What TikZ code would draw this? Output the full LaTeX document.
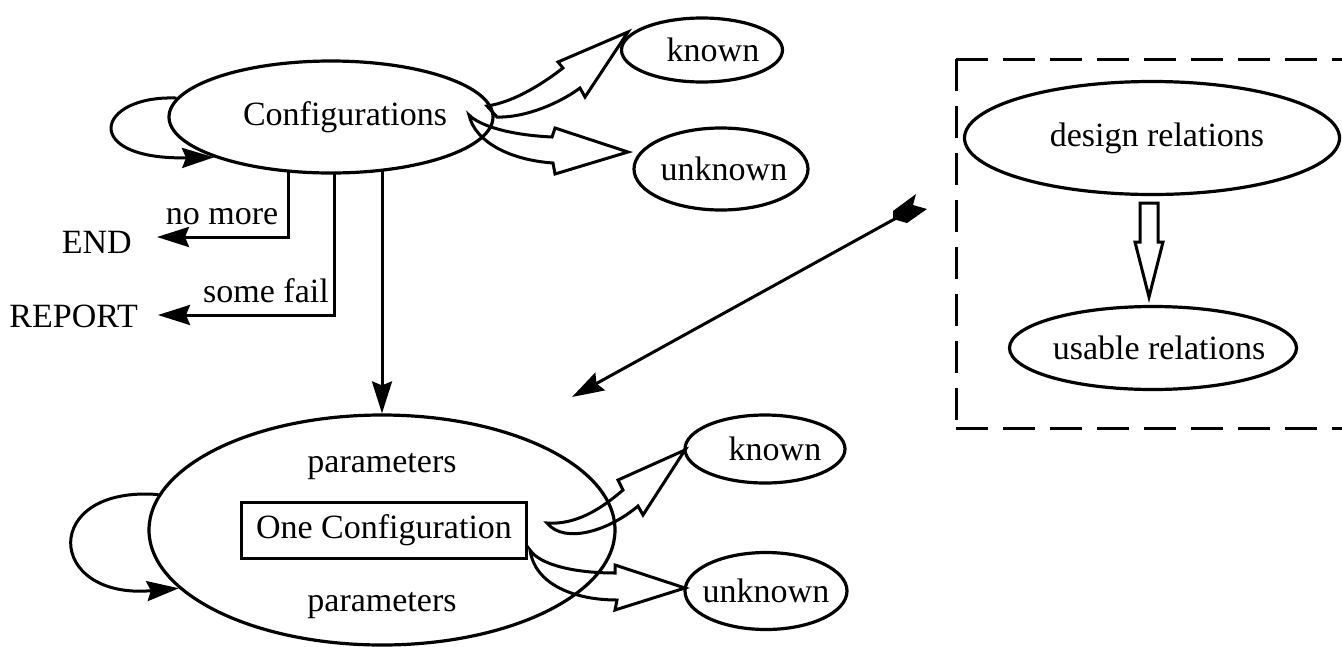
\documentclass[tikz,border=0pt]{standalone}
\usepackage{fontspec}
\setmainfont{Liberation Serif}
\usetikzlibrary{shapes.geometric,arrows.meta}
% centre a label at the node centre, nudged right by half of #1
\newcommand{\fitin}[2][0pt]{\makebox[0pt]{\hspace*{#1}#2}}
\begin{document}
\begin{tikzpicture}[x=1pt,y=-1pt,
  every node/.style={font=\fontsize{34}{40}\selectfont, inner sep=0pt},
  ell/.style={ellipse, draw, line width=3.2pt},
  conn/.style={line width=3pt},
  tip/.style={-{Stealth[length=32pt,width=20pt,inset=4pt]}},
  blockarr/.style={draw, line width=3pt, line join=miter},
  dbox/.style={line width=3pt, dash pattern=on 32pt off 15pt},
]
\useasboundingbox (0,0) rectangle (1342,646);

% --- states -------------------------------------------------------
\node[ell, minimum width=324pt, minimum height=112pt] (conf) at (331,117) {\fitin[28pt]{Configurations}};
\node[ell, minimum width=161pt, minimum height=64pt]  (kn1)  at (702,50)  {\fitin[22pt]{known}};
\node[ell, minimum width=174pt, minimum height=82pt]  (unk1) at (721,169) {\fitin[6pt]{unknown}};

\node[ell, minimum width=466pt, minimum height=230pt] (one) at (382,530) {};
\node (parA) at (382,467) {parameters};
\node (parB) at (382,606) {parameters};
\node[draw, line width=3pt, minimum width=285pt, minimum height=56pt] (cfg) at (384,530) {One Configuration};
\node[ell, minimum width=160pt, minimum height=68pt] (kn2)  at (765,449) {\fitin[20pt]{known}};
\node[ell, minimum width=162pt, minimum height=77pt] (unk2) at (766,591) {\fitin{unknown}};

\node[ell, minimum width=375pt, minimum height=113pt] (dr) at (1152,138) {\fitin[10pt]{design relations}};
\node[ell, minimum width=287pt, minimum height=83pt]  (ur) at (1153,348) {\fitin[12pt]{usable relations}};

\node[anchor=east] (END) at (132,242) {END};
\node[anchor=east] (REP) at (138,316) {REPORT};
\node (nomore)   at (222,217) {no more};
\node (somefail) at (266,291) {some fail};

\coordinate (nmX) at (288,0);
\coordinate (sfX) at (334,0);
\coordinate (dgA) at (572,397);
\coordinate (dgB) at (900,216);

% --- thin connectors ----------------------------------------------
\draw[conn, tip] (conf.173) .. controls (95,95) and (80,160) .. (conf.199);
\draw[conn, tip, shorten <=-3pt] (conf.south -| nmX) |- ([xshift=25pt,yshift=5pt]END.east);
\draw[conn, tip, shorten <=-3pt] (conf.south -| sfX) |- ([xshift=20pt,yshift=1pt]REP.east);
\draw[conn, tip, shorten <=-4pt] (conf.south -| one.north) -- (one.north);
\draw[conn, tip] (one.171) .. controls (40,485) and (45,600) .. (one.196);
\draw[conn, {Stealth[length=32pt,width=20pt,inset=4pt]}-] (dgA) -- (dgB);
% feathered tail at the upper end of the diagonal
\fill[line join=miter] (893,211) -- (916,194) -- (913,205) -- (927,209)
  -- (907,223) -- (893,219) -- cycle;

% --- curved block arrows ------------------------------------------
\draw[blockarr] (487,106) .. controls (515,102) and (545,82) .. (563,68)
  -- (558,62) -- (628,32) -- (585,97) -- (580,88)
  .. controls (560,103) and (525,118) .. (497,117) -- cycle;
\draw[blockarr] (469,115) .. controls (480,126) and (510,135) .. (552,137)
  -- (555,128) -- (628,152) -- (555,174) -- (553,163)
  .. controls (510,160) and (475,142) .. (469,115) -- cycle;
\draw[blockarr] (547,523) .. controls (575,525) and (600,510) .. (623,490)
  -- (618,480) -- (685,450) -- (643,515) -- (638,506)
  .. controls (610,530) and (565,545) .. (547,523) -- cycle;
\draw[blockarr] (530,550) .. controls (540,565) and (575,573) .. (615,573)
  -- (615,565) -- (685,588) -- (615,610) -- (617,600)
  .. controls (575,600) and (535,585) .. (530,550) -- cycle;

% --- relation box -------------------------------------------------
\draw[dbox] (956,59) -- (1342,59);
\draw[dbox] (956,428) -- (1342,428);
\draw[dbox] (956,59) -- (956,428);
\draw[blockarr] (1140,203) -- (1158,203) -- (1158,242) -- (1163,242)
  -- (1149,297) -- (1135,242) -- (1140,242) -- cycle;
\end{tikzpicture}
\end{document}
